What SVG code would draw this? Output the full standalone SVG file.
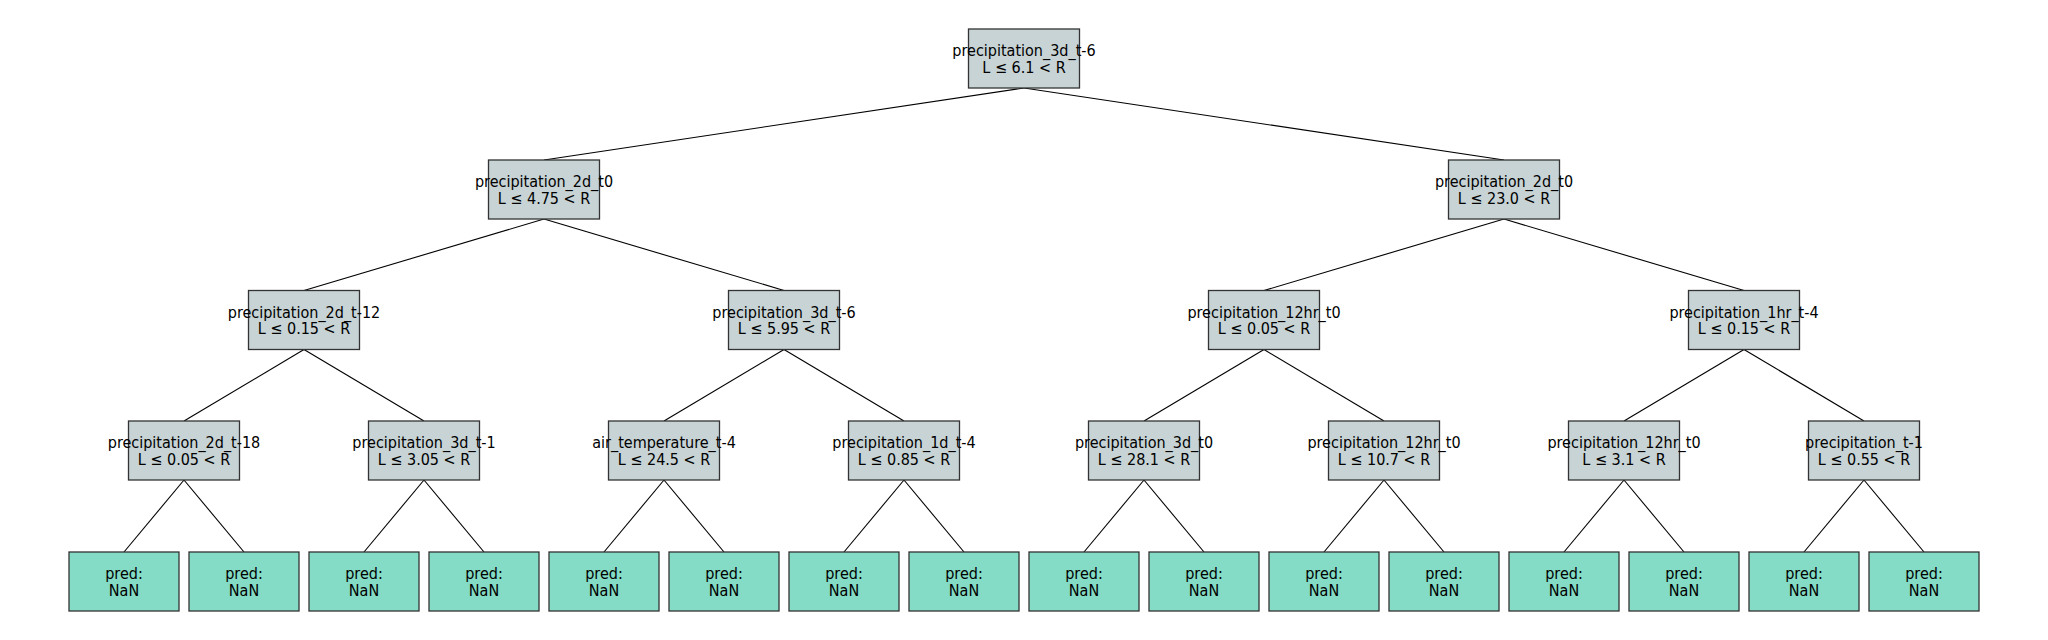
<svg xmlns="http://www.w3.org/2000/svg" width="2048" height="640" viewBox="0 0 2048 640">
<style>
.n rect{fill:#c7d3d5;stroke:#333;stroke-width:1.3}
.l rect{fill:#84dcc6;stroke:#333;stroke-width:1.3}
text{font-family:"DejaVu Sans Condensed","DejaVu Sans",sans-serif;font-stretch:condensed;font-size:16px;fill:#000;text-anchor:middle}
#edges line{stroke:#000;stroke-width:1.1}
</style>
<rect width="2048" height="640" fill="#fff"/>
<g id="edges">
<line x1="1024" y1="88" x2="544" y2="160"/>
<line x1="1024" y1="88" x2="1504" y2="160"/>
<line x1="544" y1="219" x2="304" y2="290.5"/>
<line x1="544" y1="219" x2="784" y2="290.5"/>
<line x1="1504" y1="219" x2="1264" y2="290.5"/>
<line x1="1504" y1="219" x2="1744" y2="290.5"/>
<line x1="304" y1="349.5" x2="184" y2="421"/>
<line x1="304" y1="349.5" x2="424" y2="421"/>
<line x1="784" y1="349.5" x2="664" y2="421"/>
<line x1="784" y1="349.5" x2="904" y2="421"/>
<line x1="1264" y1="349.5" x2="1144" y2="421"/>
<line x1="1264" y1="349.5" x2="1384" y2="421"/>
<line x1="1744" y1="349.5" x2="1624" y2="421"/>
<line x1="1744" y1="349.5" x2="1864" y2="421"/>
<line x1="184" y1="480" x2="124" y2="552"/>
<line x1="184" y1="480" x2="244" y2="552"/>
<line x1="424" y1="480" x2="364" y2="552"/>
<line x1="424" y1="480" x2="484" y2="552"/>
<line x1="664" y1="480" x2="604" y2="552"/>
<line x1="664" y1="480" x2="724" y2="552"/>
<line x1="904" y1="480" x2="844" y2="552"/>
<line x1="904" y1="480" x2="964" y2="552"/>
<line x1="1144" y1="480" x2="1084" y2="552"/>
<line x1="1144" y1="480" x2="1204" y2="552"/>
<line x1="1384" y1="480" x2="1324" y2="552"/>
<line x1="1384" y1="480" x2="1444" y2="552"/>
<line x1="1624" y1="480" x2="1564" y2="552"/>
<line x1="1624" y1="480" x2="1684" y2="552"/>
<line x1="1864" y1="480" x2="1804" y2="552"/>
<line x1="1864" y1="480" x2="1924" y2="552"/>
</g>
<g id="n0" class="n"><rect x="968.5" y="29" width="111" height="59"/><text x="1024" y="56">precipitation_3d_t-6</text><text x="1024" y="72.5">L ≤ 6.1 &lt; R</text></g>
<g id="n1" class="n"><rect x="488.5" y="160" width="111" height="59"/><text x="544" y="187">precipitation_2d_t0</text><text x="544" y="203.5">L ≤ 4.75 &lt; R</text></g>
<g id="n2" class="n"><rect x="1448.5" y="160" width="111" height="59"/><text x="1504" y="187">precipitation_2d_t0</text><text x="1504" y="203.5">L ≤ 23.0 &lt; R</text></g>
<g id="n3" class="n"><rect x="248.5" y="290.5" width="111" height="59"/><text x="304" y="317.5">precipitation_2d_t-12</text><text x="304" y="334">L ≤ 0.15 &lt; R</text></g>
<g id="n4" class="n"><rect x="728.5" y="290.5" width="111" height="59"/><text x="784" y="317.5">precipitation_3d_t-6</text><text x="784" y="334">L ≤ 5.95 &lt; R</text></g>
<g id="n5" class="n"><rect x="1208.5" y="290.5" width="111" height="59"/><text x="1264" y="317.5">precipitation_12hr_t0</text><text x="1264" y="334">L ≤ 0.05 &lt; R</text></g>
<g id="n6" class="n"><rect x="1688.5" y="290.5" width="111" height="59"/><text x="1744" y="317.5">precipitation_1hr_t-4</text><text x="1744" y="334">L ≤ 0.15 &lt; R</text></g>
<g id="n7" class="n"><rect x="128.5" y="421" width="111" height="59"/><text x="184" y="448">precipitation_2d_t-18</text><text x="184" y="464.5">L ≤ 0.05 &lt; R</text></g>
<g id="n8" class="n"><rect x="368.5" y="421" width="111" height="59"/><text x="424" y="448">precipitation_3d_t-1</text><text x="424" y="464.5">L ≤ 3.05 &lt; R</text></g>
<g id="n9" class="n"><rect x="608.5" y="421" width="111" height="59"/><text x="664" y="448">air_temperature_t-4</text><text x="664" y="464.5">L ≤ 24.5 &lt; R</text></g>
<g id="n10" class="n"><rect x="848.5" y="421" width="111" height="59"/><text x="904" y="448">precipitation_1d_t-4</text><text x="904" y="464.5">L ≤ 0.85 &lt; R</text></g>
<g id="n11" class="n"><rect x="1088.5" y="421" width="111" height="59"/><text x="1144" y="448">precipitation_3d_t0</text><text x="1144" y="464.5">L ≤ 28.1 &lt; R</text></g>
<g id="n12" class="n"><rect x="1328.5" y="421" width="111" height="59"/><text x="1384" y="448">precipitation_12hr_t0</text><text x="1384" y="464.5">L ≤ 10.7 &lt; R</text></g>
<g id="n13" class="n"><rect x="1568.5" y="421" width="111" height="59"/><text x="1624" y="448">precipitation_12hr_t0</text><text x="1624" y="464.5">L ≤ 3.1 &lt; R</text></g>
<g id="n14" class="n"><rect x="1808.5" y="421" width="111" height="59"/><text x="1864" y="448">precipitation_t-1</text><text x="1864" y="464.5">L ≤ 0.55 &lt; R</text></g>
<g id="leaf0" class="l"><rect x="69" y="552" width="110" height="59"/><text x="124" y="579">pred:</text><text x="124" y="595.5">NaN</text></g>
<g id="leaf1" class="l"><rect x="189" y="552" width="110" height="59"/><text x="244" y="579">pred:</text><text x="244" y="595.5">NaN</text></g>
<g id="leaf2" class="l"><rect x="309" y="552" width="110" height="59"/><text x="364" y="579">pred:</text><text x="364" y="595.5">NaN</text></g>
<g id="leaf3" class="l"><rect x="429" y="552" width="110" height="59"/><text x="484" y="579">pred:</text><text x="484" y="595.5">NaN</text></g>
<g id="leaf4" class="l"><rect x="549" y="552" width="110" height="59"/><text x="604" y="579">pred:</text><text x="604" y="595.5">NaN</text></g>
<g id="leaf5" class="l"><rect x="669" y="552" width="110" height="59"/><text x="724" y="579">pred:</text><text x="724" y="595.5">NaN</text></g>
<g id="leaf6" class="l"><rect x="789" y="552" width="110" height="59"/><text x="844" y="579">pred:</text><text x="844" y="595.5">NaN</text></g>
<g id="leaf7" class="l"><rect x="909" y="552" width="110" height="59"/><text x="964" y="579">pred:</text><text x="964" y="595.5">NaN</text></g>
<g id="leaf8" class="l"><rect x="1029" y="552" width="110" height="59"/><text x="1084" y="579">pred:</text><text x="1084" y="595.5">NaN</text></g>
<g id="leaf9" class="l"><rect x="1149" y="552" width="110" height="59"/><text x="1204" y="579">pred:</text><text x="1204" y="595.5">NaN</text></g>
<g id="leaf10" class="l"><rect x="1269" y="552" width="110" height="59"/><text x="1324" y="579">pred:</text><text x="1324" y="595.5">NaN</text></g>
<g id="leaf11" class="l"><rect x="1389" y="552" width="110" height="59"/><text x="1444" y="579">pred:</text><text x="1444" y="595.5">NaN</text></g>
<g id="leaf12" class="l"><rect x="1509" y="552" width="110" height="59"/><text x="1564" y="579">pred:</text><text x="1564" y="595.5">NaN</text></g>
<g id="leaf13" class="l"><rect x="1629" y="552" width="110" height="59"/><text x="1684" y="579">pred:</text><text x="1684" y="595.5">NaN</text></g>
<g id="leaf14" class="l"><rect x="1749" y="552" width="110" height="59"/><text x="1804" y="579">pred:</text><text x="1804" y="595.5">NaN</text></g>
<g id="leaf15" class="l"><rect x="1869" y="552" width="110" height="59"/><text x="1924" y="579">pred:</text><text x="1924" y="595.5">NaN</text></g>
</svg>
